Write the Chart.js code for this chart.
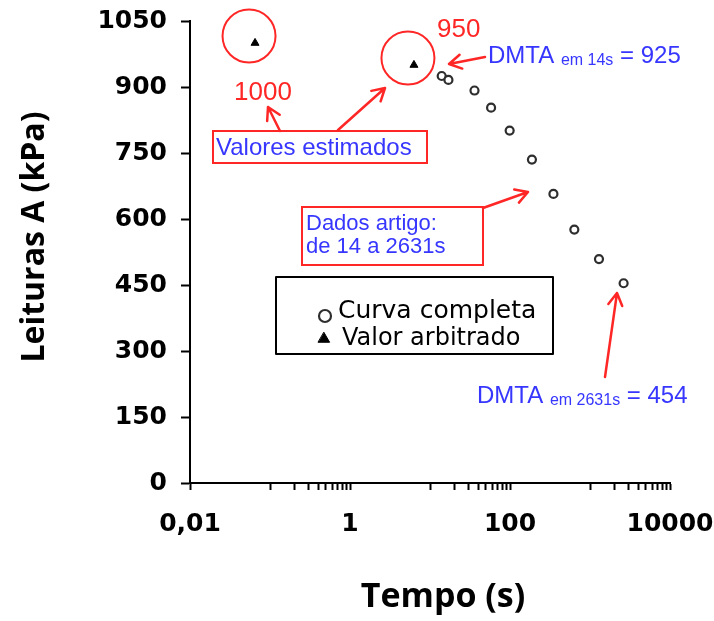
<!DOCTYPE html>
<html lang="pt">
<head>
<meta charset="utf-8">
<title>Leituras A x Tempo</title>
<script src="https://cdn.jsdelivr.net/npm/chart.js@4.4.1/dist/chart.umd.min.js"></script>
<style>
  html, body { margin: 0; padding: 0; background: #fff; }
  #wrap { width: 714px; height: 621px; }
</style>
</head>
<body>
<div id="wrap"><canvas id="grafico" width="714" height="621"></canvas></div>
<script>
// Curva completa (dados do artigo, 14 s a 2631 s)
const tempoCurva = [14, 17, 36, 58, 99, 188, 349, 637, 1295, 2631];
const leiturasCurva = [925, 916, 892, 853, 801, 735, 657, 576, 509, 454];

// Valores arbitrados (estimados) antes do início dos dados
const tempoArbitrado = [0.065, 6.3];
const leiturasArbitrado = [1000, 950];

// Eixos
const yTicks = [0, 150, 300, 450, 600, 750, 900, 1050];
const xMajorTicks = [0.01, 1, 100, 10000];
const xTickLabels = ['0,01', '1', '100', '10000'];
const xMinorTicks = [0.1, 0.2, 0.3, 0.4, 0.5, 0.6, 0.7, 0.8, 0.9,
                     10, 20, 30, 40, 50, 60, 70, 80, 90,
                     1000, 2000, 3000, 4000, 5000, 6000, 7000, 8000, 9000];

const RED = '#ff2626';
const BLUE = '#3636ff';
const SANS = "'Liberation Sans', Arial, sans-serif";

function seta(ctx, x1, y1, x2, y2) {
  const ang = Math.atan2(y2 - y1, x2 - x1);
  const L = 14, a = Math.PI / 6;
  ctx.beginPath();
  ctx.moveTo(x1, y1);
  ctx.lineTo(x2, y2);
  ctx.moveTo(x2 - L * Math.cos(ang - a), y2 - L * Math.sin(ang - a));
  ctx.lineTo(x2, y2);
  ctx.lineTo(x2 - L * Math.cos(ang + a), y2 - L * Math.sin(ang + a));
  ctx.stroke();
}

// Texto com índice: [texto, tamanho, deslocamento vertical]
function textoComIndice(ctx, x, y, partes) {
  let cx = x;
  partes.forEach(([t, size, dy]) => {
    ctx.font = size + 'px ' + SANS;
    ctx.fillText(t, cx, y + dy);
    cx += ctx.measureText(t).width;
  });
}

const anotacoes = {
  id: 'anotacoes',
  afterDraw(chart) {
    const ctx = chart.ctx;
    const xs = chart.scales.x, ys = chart.scales.y;
    ctx.save();

    // Círculos vermelhos em volta dos valores arbitrados
    ctx.strokeStyle = RED;
    ctx.lineWidth = 2;
    tempoArbitrado.forEach((t, i) => {
      const px = xs.getPixelForValue(t), py = ys.getPixelForValue(leiturasArbitrado[i]);
      ctx.beginPath();
      ctx.arc(px - 6, py - 7, 26.5, 0, Math.PI * 2);
      ctx.stroke();
    });

    // Caixas de texto
    ctx.strokeRect(213, 131, 214, 32);
    ctx.strokeRect(302, 207, 181, 58);

    // Setas
    ctx.lineWidth = 2.5;
    ctx.lineCap = 'round';
    ctx.lineJoin = 'round';
    seta(ctx, 280, 131, 268, 107);
    seta(ctx, 338, 130, 385, 88);
    seta(ctx, 485, 57, 449, 64);
    seta(ctx, 483, 208, 528, 192);
    seta(ctx, 605, 377, 617, 293);

    // Valores estimados (vermelho)
    ctx.fillStyle = RED;
    ctx.textBaseline = 'alphabetic';
    ctx.textAlign = 'left';
    ctx.font = '26px ' + SANS;
    ctx.fillText(String(leiturasArbitrado[0]), 234, 100);
    ctx.fillText(String(leiturasArbitrado[1]), 437, 37);

    // Textos azuis
    ctx.fillStyle = BLUE;
    ctx.font = '24px ' + SANS;
    ctx.fillText('Valores estimados', 216, 155);
    ctx.font = '22px ' + SANS;
    ctx.fillText('Dados artigo:', 306, 230);
    ctx.fillText('de ' + tempoCurva[0] + ' a ' + tempoCurva[tempoCurva.length - 1] + 's', 306, 253);
    textoComIndice(ctx, 488, 63, [['DMTA ', 24, 0], ['em ' + tempoCurva[0] + 's', 16, 2], [' = ' + leiturasCurva[0], 24, 0]]);
    const n = tempoCurva.length - 1;
    textoComIndice(ctx, 477, 403, [['DMTA ', 24, 0], ['em ' + tempoCurva[n] + 's', 16, 2], [' = ' + leiturasCurva[n], 24, 0]]);

    // Legenda
    ctx.strokeStyle = '#000';
    ctx.lineWidth = 2;
    ctx.strokeRect(276, 277, 277, 77);
    ctx.fillStyle = '#fff';
    ctx.strokeStyle = '#2e2e2e';
    ctx.lineWidth = 2.2;
    ctx.beginPath(); ctx.arc(325, 316, 6, 0, Math.PI * 2); ctx.fill(); ctx.stroke();
    ctx.fillStyle = '#000';
    ctx.strokeStyle = '#000';
    ctx.lineWidth = 1;
    Chart.helpers.drawPoint(ctx, { pointStyle: 'triangle', radius: 6.5, borderWidth: 1 }, 324, 339);
    ctx.fillStyle = '#000';
    ctx.font = "25px 'DejaVu Sans', sans-serif";
    ctx.fillText(chart.data.datasets[0].label, 338, 318);
    ctx.font = "24px 'DejaVu Sans', sans-serif";
    ctx.fillText(chart.data.datasets[1].label, 342, 345);

    // Títulos dos eixos
    ctx.textAlign = 'center';
    ctx.textBaseline = 'middle';
    ctx.font = "bold 34px 'Open Sans', sans-serif";
    ctx.fillText('Tempo (s)', 443, 597);
    ctx.font = "bold 32px 'Open Sans', sans-serif";
    ctx.translate(35, 237);
    ctx.rotate(-Math.PI / 2);
    ctx.fillText('Leituras A (kPa)', 0, 0);

    ctx.restore();
  }
};

const tickFont = { family: "'DejaVu Sans', sans-serif", weight: 'bold', size: 25 };

new Chart(document.getElementById('grafico'), {
  type: 'scatter',
  data: {
    datasets: [
      {
        label: 'Curva completa',
        data: tempoCurva.map((t, i) => ({ x: t, y: leiturasCurva[i] })),
        pointStyle: 'circle',
        pointRadius: 4,
        pointBorderWidth: 2.2,
        pointBorderColor: '#2e2e2e',
        pointBackgroundColor: '#ffffff'
      },
      {
        label: 'Valor arbitrado',
        data: tempoArbitrado.map((t, i) => ({ x: t, y: leiturasArbitrado[i] })),
        pointStyle: 'triangle',
        pointRadius: 4.6,
        pointBorderWidth: 1,
        pointBorderColor: '#000000',
        pointBackgroundColor: '#000000'
      }
    ]
  },
  options: {
    responsive: false,
    animation: false,
    devicePixelRatio: 1,
    layout: { padding: { top: 21, right: 44, left: 0, bottom: 0 } },
    plugins: { legend: { display: false }, tooltip: { enabled: false } },
    scales: {
      x: {
        type: 'logarithmic',
        min: 0.01,
        max: 10000,
        afterBuildTicks: s => {
          s.ticks = xMajorTicks.concat(xMinorTicks).sort((a, b) => a - b).map(v => ({ value: v }));
        },
        afterFit: s => {
          s.height = 138;
          s.paddingLeft = 0; s.paddingRight = 0;
        },
        ticks: {
          autoSkip: false,
          maxRotation: 0,
          padding: 19,
          color: '#000',
          font: tickFont,
          callback: v => {
            const i = xMajorTicks.indexOf(v);
            return i >= 0 ? xTickLabels[i] : '';
          }
        },
        grid: { drawOnChartArea: false, drawTicks: true, tickLength: 7, tickColor: '#000', tickWidth: 2 },
        border: { display: true, color: '#000', width: 2 }
      },
      y: {
        min: 0,
        max: 1050,
        afterBuildTicks: s => { s.ticks = yTicks.map(v => ({ value: v })); },
        afterFit: s => {
          s.width = 190;
          s.paddingTop = 0; s.paddingBottom = 0;
        },
        ticks: { padding: 14, color: '#000', font: tickFont, callback: v => String(v) },
        grid: { drawOnChartArea: false, drawTicks: true, tickLength: 9, tickColor: '#000', tickWidth: 2 },
        border: { display: true, color: '#000', width: 2 }
      }
    }
  },
  plugins: [anotacoes]
});
</script>
</body>
</html>
